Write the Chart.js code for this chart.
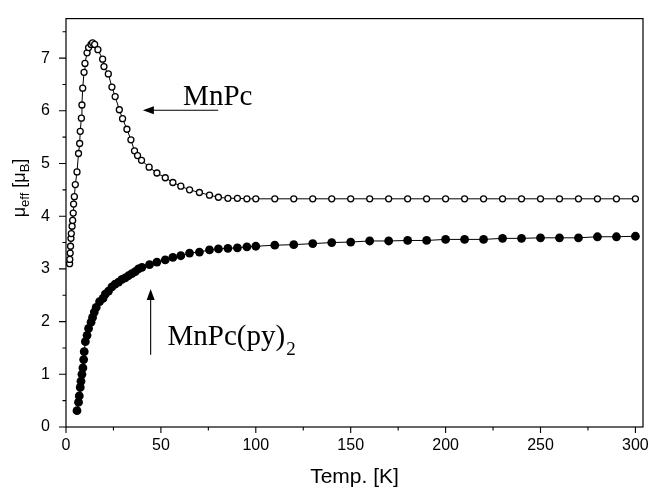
<!DOCTYPE html>
<html><head><meta charset="utf-8">
<script src="https://cdn.jsdelivr.net/npm/chart.js@4"></script>
<style>html,body{margin:0;padding:0;background:#fff}#wrap{width:651px;height:490px}</style>
</head><body><div id="wrap"><canvas id="c" width="651" height="490"></canvas></div>
<script>
// ---- data ----
const tempMnPc = [1.9, 2.0, 2.2, 2.4, 2.6, 2.8, 3.2, 3.5, 3.8, 4.0, 4.4, 4.9, 5.8, 6.6, 7.2, 7.5, 8.1, 8.4, 8.8, 9.5, 10.0, 11.1, 11.9, 13.2, 14.0, 15.1, 16.8, 19.3, 20.0, 22.3, 24.2, 25.9, 28.1, 29.8, 32.1, 34.2, 36.1, 37.7, 39.8, 43.8, 47.9, 52.3, 56.3, 60.5, 65.1, 70.3, 75.6, 80.3, 85.3, 90.3, 95.3,
  100, 110, 120, 130, 140, 150, 160, 170, 180, 190, 200, 210, 220, 230, 240, 250, 260, 270, 280, 290, 300];
const muMnPc = [3.10, 3.18, 3.30, 3.43, 3.58, 3.67, 3.81, 3.92, 4.06, 4.23, 4.37, 4.60, 4.84, 5.19, 5.38, 5.61, 5.86, 6.11, 6.43, 6.73, 6.90, 7.10, 7.20, 7.26, 7.29, 7.26, 7.16, 6.98, 6.84, 6.70, 6.45, 6.27, 6.02, 5.85, 5.65, 5.45, 5.24, 5.15, 5.06, 4.93, 4.82, 4.73, 4.64, 4.57, 4.50, 4.45, 4.40, 4.36, 4.34, 4.34, 4.33,
  4.33, 4.33, 4.33, 4.33, 4.33, 4.33, 4.33, 4.33, 4.33, 4.33, 4.33, 4.33, 4.33, 4.33, 4.33, 4.33, 4.33, 4.33, 4.33, 4.33, 4.33];
const tempPy = [5.8, 6.6, 7.0, 7.5, 7.9, 8.4, 8.9, 9.3, 9.6, 10.2, 11.1, 11.9, 13.2, 14.0, 14.9, 15.9, 17.7, 19.5, 20.7, 22.4, 24.2, 25.9, 27.7, 29.5, 31.2, 32.9, 34.7, 36.5, 38.2, 40.0, 44.0, 47.9, 52.3, 56.3, 60.5, 65.1, 70.3, 75.6, 80.3, 85.3, 90.3, 95.3,
  100, 110, 120, 130, 140, 150, 160, 170, 180, 190, 200, 210, 220, 230, 240, 250, 260, 270, 280, 290, 300];
const muPy = [0.31, 0.47, 0.59, 0.75, 0.87, 1.00, 1.12, 1.28, 1.43, 1.62, 1.74, 1.87, 1.99, 2.08, 2.18, 2.27, 2.38, 2.44, 2.52, 2.58, 2.66, 2.71, 2.75, 2.80, 2.83, 2.87, 2.91, 2.95, 3.00, 3.03, 3.08, 3.13, 3.17, 3.22, 3.25, 3.30, 3.32, 3.36, 3.38, 3.39, 3.40, 3.42,
  3.43, 3.45, 3.46, 3.48, 3.50, 3.51, 3.53, 3.53, 3.54, 3.54, 3.56, 3.56, 3.56, 3.58, 3.58, 3.59, 3.59, 3.59, 3.61, 3.61, 3.62];
const xTickLabels = [0, 50, 100, 150, 200, 250, 300];
const yTickLabels = [0, 1, 2, 3, 4, 5, 6, 7];
const xTitle = 'Temp. [K]';
const yTitleParts = [['μ', false], ['eff', true], [' [μ', false], ['B', true], [']', false]];
const labelMnPc = 'MnPc';
const labelPy = 'MnPc(py)';
const labelPySub = '2';
// annotation anchors in data units [T, mu]
const arrowMnPc = [[80.2, 6.01], [40.5, 6.01]];   // tail -> tip
const textMnPcAt = [61.7, 6.11];
const arrowPy = [[44.6, 1.37], [44.6, 2.62]];      // tail -> tip
const textPyAt = [53.5, 1.56];

const toPts = (xs, ys) => xs.map((v, i) => ({x: v, y: ys[i]}));

function arrow(ctx, x1, y1, x2, y2) {
  const ang = Math.atan2(y2 - y1, x2 - x1), L = 11, W = 4;
  ctx.beginPath(); ctx.moveTo(x1, y1);
  ctx.lineTo(x2 - Math.cos(ang) * L * 0.8, y2 - Math.sin(ang) * L * 0.8); ctx.stroke();
  ctx.beginPath(); ctx.moveTo(x2, y2);
  ctx.lineTo(x2 - Math.cos(ang) * L + Math.sin(ang) * W, y2 - Math.sin(ang) * L - Math.cos(ang) * W);
  ctx.lineTo(x2 - Math.cos(ang) * L - Math.sin(ang) * W, y2 - Math.sin(ang) * L + Math.cos(ang) * W);
  ctx.closePath(); ctx.fill();
}

const decor = {
  id: 'decor',
  beforeDatasetsDraw(chart) {
    const {ctx, chartArea: a, scales: {x, y}} = chart;
    ctx.save();
    ctx.strokeStyle = '#000';
    ctx.lineWidth = 1.2;
    ctx.strokeRect(a.left, a.top, a.right - a.left, a.bottom - a.top);
    ctx.lineWidth = 1.1;
    ctx.beginPath();
    x.ticks.forEach(t => {
      const px = x.getPixelForValue(t.value);
      const len = xTickLabels.includes(t.value) ? 6 : 3.5;
      ctx.moveTo(px, a.bottom); ctx.lineTo(px, a.bottom + len);
    });
    y.ticks.forEach(t => {
      const py = y.getPixelForValue(t.value);
      const len = yTickLabels.includes(t.value) ? 7 : 3.5;
      ctx.moveTo(a.left, py); ctx.lineTo(a.left - len, py);
    });
    ctx.stroke();
    ctx.restore();
  },
  afterDatasetsDraw(chart) {
    const {ctx, chartArea: a, scales: {x, y}} = chart;
    const P = p => [x.getPixelForValue(p[0]), y.getPixelForValue(p[1])];
    ctx.save();
    ctx.fillStyle = '#000'; ctx.strokeStyle = '#000'; ctx.lineWidth = 1.1;
    let t = P(arrowMnPc[0]), h = P(arrowMnPc[1]);
    arrow(ctx, t[0], t[1], h[0], h[1]);
    t = P(arrowPy[0]); h = P(arrowPy[1]);
    arrow(ctx, t[0], t[1], h[0], h[1]);
    ctx.textBaseline = 'alphabetic'; ctx.textAlign = 'left';
    ctx.font = '29px "Liberation Serif", "Times New Roman", serif';
    let p = P(textMnPcAt);
    ctx.fillText(labelMnPc, p[0], p[1]);
    p = P(textPyAt);
    ctx.fillText(labelPy, p[0], p[1]);
    const w = ctx.measureText(labelPy).width;
    ctx.font = '19px "Liberation Serif", "Times New Roman", serif';
    ctx.fillText(labelPySub, p[0] + w + 1, p[1] + 10);

    // x axis title
    ctx.font = '21px "Liberation Sans", Arial, sans-serif';
    ctx.textAlign = 'center';
    ctx.fillText(xTitle, (a.left + a.right) / 2, 483);

    // y axis title with subscripts
    ctx.textAlign = 'left';
    const mainF = '18px "Liberation Sans", Arial, sans-serif';
    const subF = '13px "Liberation Sans", Arial, sans-serif';
    let W = 0;
    yTitleParts.forEach(([s, sub]) => { ctx.font = sub ? subF : mainF; W += ctx.measureText(s).width; });
    ctx.translate(25, 188);
    ctx.rotate(-Math.PI / 2);
    let cx = -W / 2;
    yTitleParts.forEach(([s, sub]) => {
      ctx.font = sub ? subF : mainF;
      ctx.fillText(s, cx, sub ? 4 : 0);
      cx += ctx.measureText(s).width;
    });
    ctx.restore();
  }
};

new Chart(document.getElementById('c'), {
  type: 'scatter',
  data: {
    datasets: [
      {
        label: labelMnPc,
        data: toPts(tempMnPc, muMnPc),
        showLine: true,
        borderColor: '#000', borderWidth: 1,
        pointRadius: 3, pointBorderWidth: 1.3,
        pointBackgroundColor: '#fff', pointBorderColor: '#000',
        clip: false
      },
      {
        label: labelPy + labelPySub,
        data: toPts(tempPy, muPy),
        showLine: true,
        borderColor: '#000', borderWidth: 1,
        pointRadius: 4.4, pointBorderWidth: 0,
        pointBackgroundColor: '#000', pointBorderColor: '#000',
        clip: false
      }
    ]
  },
  options: {
    responsive: false, animation: false, devicePixelRatio: 1,
    layout: {padding: {top: 11, right: 8, left: 0, bottom: 0}},
    plugins: {legend: {display: false}, tooltip: {enabled: false}},
    scales: {
      x: {
        type: 'linear', min: 0, max: 304,
        grid: {display: false, drawTicks: true, tickLength: 7},
        border: {display: false},
        ticks: {
          stepSize: 25, includeBounds: false, autoSkip: false, maxRotation: 0, padding: 2,
          color: '#000', font: {family: '"Liberation Sans", Arial, sans-serif', size: 16},
          callback: v => xTickLabels.includes(v) ? String(v) : ''
        },
        afterFit: s => { s.height = 63; }
      },
      y: {
        type: 'linear', min: 0, max: 7.75,
        grid: {display: false, drawTicks: true, tickLength: 7},
        border: {display: false},
        ticks: {
          stepSize: 0.5, includeBounds: false, autoSkip: false, padding: 9,
          color: '#000', font: {family: '"Liberation Sans", Arial, sans-serif', size: 16},
          callback: v => yTickLabels.includes(v) ? String(v) : ''
        },
        afterFit: s => { s.width = 66; }
      }
    }
  },
  plugins: [decor]
});
</script>
</body></html>
